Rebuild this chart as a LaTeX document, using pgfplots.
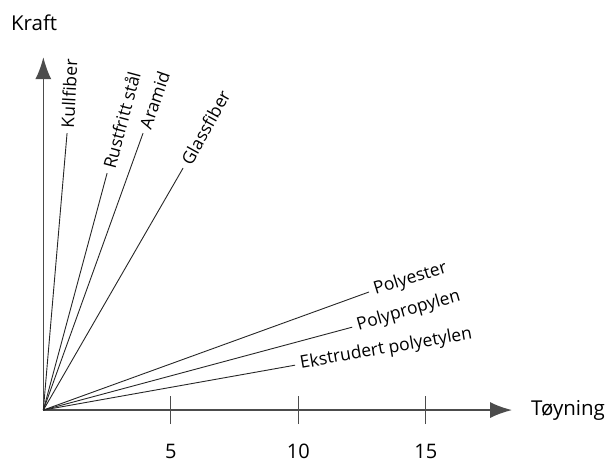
\documentclass[border=0pt]{standalone}
\usepackage{pgfplots}
\pgfplotsset{compat=1.18}
\usepackage{fontspec}
\setmainfont{Open Sans}
\usetikzlibrary{arrows.meta}
\tikzset{lbl/.style={font=\fontsize{17.5}{20}\selectfont, text=black, anchor=west, inner sep=5pt}}
\pgfplotsset{dl/.style={draw=black!85, line width=0.9pt, mark=none, solid}}
\begin{document}
\begin{tikzpicture}
\begin{axis}[
  x=25.5pt, y=25.5pt,
  xmin=0, xmax=18.38, ymin=0, ymax=13.84,
  axis lines=left,
  clip=false,
  x axis line style={draw=black!70, line width=1.6pt, -{Latex[length=22pt,width=16pt]}},
  y axis line style={draw=black!70, line width=1.6pt, -{Latex[length=22pt,width=16pt]}},
  xtick={5,10,15}, xticklabels={5,10,15},
  ytick=\empty,
  major tick length=28pt, tick align=center,
  x tick style={draw=black!70, line width=1pt},
  /pgf/number format/assume math mode=true,
  xticklabel style={font=\fontsize{20}{24}\selectfont, anchor=base, yshift=-34pt},
  xlabel={Tøyning},
  xlabel style={font=\fontsize{20.5}{24}\selectfont, at={(axis cs:19.12,-0.2)}, anchor=base west, inner sep=0pt},
  ylabel={Kraft},
  ylabel style={font=\fontsize{20.5}{24}\selectfont, rotate=-90, at={(axis cs:-0.36,15.18)}, anchor=center},
]
\addplot[dl] coordinates {(0,0) (0.93,10.86)} node[pos=1, lbl, rotate=87] {Kullfiber};
\addplot[dl] coordinates {(0,0) (2.50,9.29)} node[pos=1, lbl, rotate=75] {Rustfritt stål};
\addplot[dl] coordinates {(0,0) (3.91,10.86)} node[pos=1, lbl, rotate=71] {Aramid};
\addplot[dl] coordinates {(0,0) (5.48,9.49)} node[pos=1, lbl, rotate=61] {Glassfiber};
\addplot[dl] coordinates {(0,0) (12.77,4.63)} node[pos=1, lbl, rotate=17] {Polyester};
\addplot[dl] coordinates {(0,0) (12.11,3.25)} node[pos=1, lbl, rotate=16] {Polypropylen};
\addplot[dl] coordinates {(0,0) (9.87,1.76)} node[pos=1, lbl, rotate=10] {Ekstrudert polyetylen};
\path (axis cs:-1.70,-2.0) rectangle (axis cs:22.26,16.08);
\end{axis}
\end{tikzpicture}
\end{document}
